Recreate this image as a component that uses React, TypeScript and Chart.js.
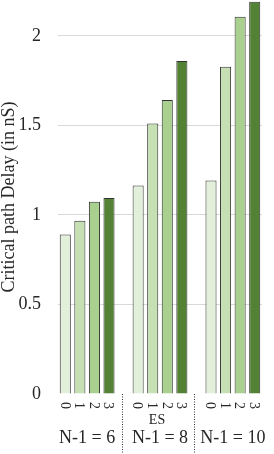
import React, { useEffect, useRef } from 'react';
import { Chart, registerables } from 'chart.js';
Chart.register(...registerables);

const subLabels = ['0', '1', '2', '3'];
const groupLabels = ['N-1 = 6', 'N-1 = 8', 'N-1 = 10'];
const delayN6 = [0.89, 0.967, 1.073, 1.095];
const delayN8 = [1.164, 1.51, 1.642, 1.859];
const delayN10 = [1.192, 1.827, 2.106, 2.19];
const groupValues = [delayN6, delayN8, delayN10];
const middleNote = 'ES';
const barColors = ['#e2efda', '#c6e0b4', '#a9d08e', '#548235'];
const yTicks = [0, 0.5, 1, 1.5, 2];
const yTitle = 'Critical path Delay (in nS)';

const SERIF = '"Liberation Serif", "Times New Roman", serif';
const TEXT = '#262626';

type Slot = { label: string; value: number | null; color: string; group: number; gap: boolean };

function buildSlots(): Slot[] {
  const slots: Slot[] = [];
  groupValues.forEach((vals, g) => {
    vals.forEach((v, i) => slots.push({ label: subLabels[i], value: v, color: barColors[i], group: g, gap: false }));
    if (g < groupValues.length - 1) slots.push({ label: '', value: null, color: 'rgba(0,0,0,0)', group: g, gap: true });
  });
  return slots;
}

export default function App() {
  const ref = useRef<HTMLCanvasElement | null>(null);
  useEffect(() => {
    document.body.style.margin = '0';
    const slots = buildSlots();
    const labelsPlugin = {
      id: 'groupLabels',
      afterDraw(chart: any) {
        const ctx = chart.ctx;
        const x = chart.scales.x;
        const bottom = chart.chartArea.bottom;
        const H = chart.height;
        ctx.save();
        ctx.fillStyle = TEXT;
        ctx.font = `14px ${SERIF}`;
        slots.forEach((s, i) => {
          if (s.gap) return;
          const px = x.getPixelForValue(i);
          ctx.save();
          ctx.translate(px - 1, bottom + 8);
          ctx.rotate(Math.PI / 2);
          ctx.textAlign = 'left';
          ctx.textBaseline = 'middle';
          ctx.fillText(s.label, 0, 0);
          ctx.restore();
        });
        ctx.strokeStyle = '#333';
        ctx.lineWidth = 1;
        ctx.setLineDash([1, 1.5]);
        slots.forEach((s, i) => {
          if (!s.gap) return;
          const px = Math.round(x.getPixelForValue(i) - 2) + 0.5;
          ctx.beginPath();
          ctx.moveTo(px, bottom);
          ctx.lineTo(px, H);
          ctx.stroke();
        });
        ctx.setLineDash([]);
        groupLabels.forEach((gl, g) => {
          const idx = slots.map((s, i) => (!s.gap && s.group === g ? i : -1)).filter((i) => i >= 0);
          const cx = (x.getPixelForValue(idx[0]) + x.getPixelForValue(idx[idx.length - 1])) / 2;
          ctx.textAlign = 'center';
          ctx.textBaseline = 'middle';
          ctx.font = `18px ${SERIF}`;
          ctx.fillText(gl, cx, bottom + 44);
          if (g === 1) {
            ctx.font = `14px ${SERIF}`;
            ctx.fillText(middleNote, cx - 3, bottom + 26);
          }
        });
        ctx.restore();
      },
    };
    const chart = new Chart(ref.current!, {
      type: 'bar',
      data: {
        labels: slots.map((s) => s.label),
        datasets: [
          {
            data: slots.map((s) => s.value),
            backgroundColor: slots.map((s) => s.color),
            borderColor: '#333',
            borderWidth: 1,
            barPercentage: 0.76,
            categoryPercentage: 1,
          },
        ],
      },
      options: {
        animation: false,
        responsive: false,
        devicePixelRatio: 1,
        layout: { padding: { top: 0, right: 12, bottom: 60, left: 0 } },
        plugins: { legend: { display: false }, tooltip: { enabled: false } },
        scales: {
          x: { display: false },
          y: {
            min: 0,
            max: 2.2,
            afterBuildTicks: (axis: any) => {
              axis.ticks = yTicks.map((v) => ({ value: v }));
            },
            afterFit: (scale: any) => {
              scale.width = 58;
              scale.paddingTop = 0;
              scale.paddingBottom = 0;
            },
            border: { display: false },
            grid: {
              drawTicks: false,
              color: (c: any) => (c.tick && c.tick.value === 0 ? 'rgba(0,0,0,0)' : '#d9d9d9'),
            },
            ticks: {
              padding: 17,
              color: TEXT,
              font: { family: SERIF, size: 18 },
              callback: (v: any) => String(v),
            },
            title: {
              display: true,
              text: yTitle,
              color: TEXT,
              font: { family: SERIF, size: 18, lineHeight: 0.85 },
              padding: { top: 2, bottom: 0 },
            },
          },
        },
      },
      plugins: [labelsPlugin],
    });
    return () => chart.destroy();
  }, []);
  return (
    <div style={{ width: 274, height: 454 }}>
      <canvas ref={ref} width={274} height={454} />
    </div>
  );
}
